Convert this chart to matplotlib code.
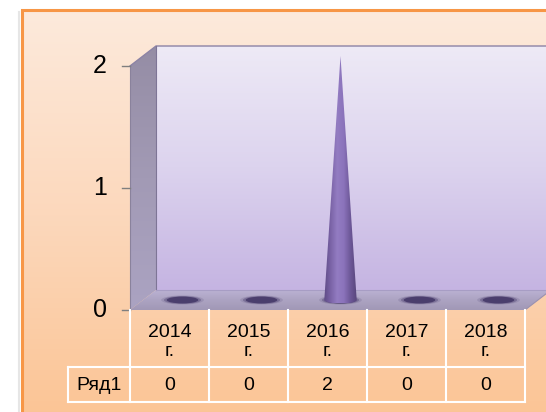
import numpy as np
import matplotlib
matplotlib.use('Agg')
import matplotlib.pyplot as plt
from matplotlib.patches import Polygon, Ellipse, Rectangle
from matplotlib.colors import LinearSegmentedColormap

# ---------------- data ----------------
categories = ['2014\nг.', '2015\nг.', '2016\nг.', '2017\nг.', '2018\nг.']
series_name = 'Ряд1'
values = [0, 0, 2, 0, 0]
yticks = [0, 1, 2]

FONT = ['Liberation Sans', 'DejaVu Sans']

# ---------------- layout (pixels) ----------------
W, H = 546, 412
X0, X1 = 130, 525       # front plane span of categories
Y0, Y2 = 310, 66        # pixel rows of value 0 and max tick
DX, DY = 26, 20         # depth offset of the back wall
n = len(categories)
ymax = max(yticks)
pxc = (X1 - X0) / n
pyv = (Y0 - Y2) / ymax
ODX, ODY = DX / pxc, DY / pyv

fig = plt.figure(figsize=(W / 100, H / 100), dpi=100)
fig.patch.set_facecolor('white')
ax = fig.add_axes([0, 0, 1, 1])
ax.set_axis_off()
ax.set_xlim(-0.5 - X0 / pxc, -0.5 + (W - X0) / pxc)
ax.set_ylim(-(H - Y0) / pyv, Y0 / pyv)
ax.set_autoscale_on(False)


def px(xp):
    return -0.5 + (xp - X0) / pxc


def py(yp):
    return (Y0 - yp) / pyv


def P(x, y, d=0.0):
    return (x + d * ODX, y + d * ODY)


def grad_fill(pts, colors, vertical=True, z=1, reverse=False):
    pts = np.asarray(pts)
    poly = Polygon(pts, closed=True, facecolor='none', edgecolor='none', zorder=z)
    ax.add_patch(poly)
    g = np.linspace(0, 1, 256)
    if reverse:
        g = g[::-1]
    img = g.reshape(-1, 1) if vertical else g.reshape(1, -1)
    cm = LinearSegmentedColormap.from_list('g', colors)
    xmn, ymn = pts.min(axis=0)
    xmx, ymx = pts.max(axis=0)
    im = ax.imshow(img, cmap=cm, extent=(xmn, xmx, ymn, ymx), origin='upper',
                   aspect='auto', interpolation='bilinear', zorder=z)
    im.set_clip_path(poly)
    return poly


# ---------------- background ----------------
bx0, by0 = px(22), py(10)
bg_pts = [(bx0, py(H + 10)), (px(W + 10), py(H + 10)), (px(W + 10), by0), (bx0, by0)]
grad_fill(bg_pts, ['#FDEADC', '#FCD8BC', '#FBC494'], vertical=True, z=0)
# faint shadow and orange frame
ax.plot([px(19.5), px(19.5)], [py(H + 5), py(12)], color='#E6E6E6', lw=1.5, zorder=0.5)
ax.plot([px(22), px(22), px(W + 10)], [py(H + 5), py(10), py(10)],
        color='#F79646', lw=2.2, zorder=0.6, solid_joinstyle='miter')

# ---------------- walls ----------------
L, R = -0.5, n - 0.5
back = [P(L, 0, 1), P(R, 0, 1), P(R, ymax, 1), P(L, ymax, 1)]
grad_fill(back, ['#EEEAF6', '#DCD3EE', '#C5B4E2'], z=1)
side = [P(L, 0, 0), P(L, ymax, 0), P(L, ymax, 1), P(L, 0, 1)]
grad_fill(side, ['#958DA5', '#A29AB5', '#ABA3C2'], z=1.1)
floor = [P(L, 0, 0), P(R, 0, 0), P(R, 0, 1), P(L, 0, 1)]
grad_fill(floor, ['#BBB2D3', '#ACA3C2', '#A198B6'], z=1.2)

edge = '#8C83A5'
ax.plot([P(L, ymax, 0)[0], P(L, ymax, 1)[0], P(R, ymax, 1)[0]],
        [P(L, ymax, 0)[1], P(L, ymax, 1)[1], P(R, ymax, 1)[1]], color=edge, lw=1.0, zorder=1.3)
ax.plot([P(L, 0, 1)[0], P(L, ymax, 1)[0]], [P(L, 0, 1)[1], P(L, ymax, 1)[1]],
        color='#7E7596', lw=0.8, zorder=1.3)
ax.plot([P(L, 0, 1)[0], P(R, 0, 1)[0]], [P(L, 0, 1)[1], P(R, 0, 1)[1]],
        color='#A79DC4', lw=0.8, zorder=1.3)
ax.plot([P(L, 0, 0)[0], P(L, ymax, 0)[0]], [P(L, 0, 0)[1], P(L, ymax, 0)[1]],
        color='#8A829C', lw=0.8, zorder=1.3)
ax.plot([P(R, 0, 0)[0], P(R, 0, 1)[0]], [P(R, 0, 0)[1], P(R, 0, 1)[1]],
        color='#9A91B0', lw=0.8, zorder=1.3)

# ---------------- cones ----------------
half_w = 0.205
sh_w, sh_h = 0.47, 8 / pyv
for i, v in enumerate(values):
    cx, cy = P(i, 0, 0.5)
    # soft dark base / shadow
    for k, (sc, a) in enumerate([(1.15, 0.15), (1.0, 0.35), (0.85, 0.8)]):
        ax.add_patch(Ellipse((cx, cy), sh_w * sc, sh_h * sc, facecolor='#3F3263',
                             edgecolor='none', alpha=a, zorder=2 + k * 0.01))
    if v > 0:
        ax_, ay_ = P(i, v, 0.5)
        eh = 3.5 / pyv
        t = np.linspace(0, np.pi, 40)
        arc = [(cx + half_w * np.cos(tt), cy - eh * np.sin(tt)) for tt in t]
        pts = [(ax_, ay_)] + arc
        grad_fill(pts, ['#5E4B86', '#7A63A6', '#937CC2', '#8B73BB', '#6D5898', '#58457B'],
                  vertical=False, z=3)

# ---------------- y axis ----------------
for t in yticks:
    ax.plot([L - 8 / pxc, L], [t, t], color='#7F7F7F', lw=1.0, zorder=4)
    ax.text(px(107), t, str(t), ha='right', va='center', fontsize=18,
            family=FONT, color='black', zorder=4)

# ---------------- data table ----------------
tw = '#FFFFFF'
lw = 1.5
r_top, r_mid, r_bot = py(310), py(367), py(402)
lab_x = px(68)
for k in range(n + 1):
    ax.plot([k - 0.5, k - 0.5], [r_top, r_bot], color=tw, lw=lw, zorder=5)
ax.plot([lab_x, lab_x], [r_mid, r_bot], color=tw, lw=lw, zorder=5)
ax.plot([lab_x, R], [r_mid, r_mid], color=tw, lw=lw, zorder=5)
ax.plot([lab_x, R], [r_bot, r_bot], color=tw, lw=lw, zorder=5)

for i, c in enumerate(categories):
    ax.text(i, py(342), c, ha='center', va='center', fontsize=14,
            family=FONT, color='black', linespacing=1.2, zorder=6)
    ax.text(i, py(385), str(values[i]), ha='center', va='center', fontsize=14,
            family=FONT, color='black', zorder=6)
ax.text((lab_x + L) / 2, py(385), series_name, ha='center', va='center',
        fontsize=14, family=FONT, color='black', zorder=6)

fig.savefig('out.png', dpi=100, facecolor='white')
